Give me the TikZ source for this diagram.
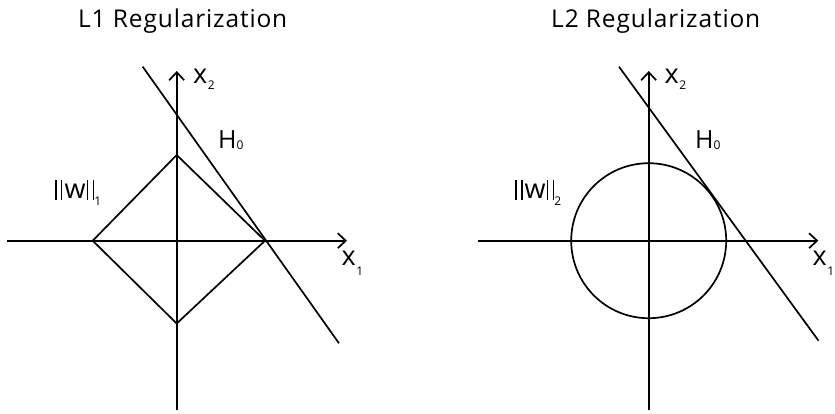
\documentclass[tikz,border=0pt]{standalone}
\usepackage{fontspec}
\setmainfont{Open Sans}
\newfontfamily\titlefont[LetterSpace=3.5]{Open Sans}
\usetikzlibrary{arrows.meta}
\newcommand\dbar{\rule[-2pt]{1.4pt}{20pt}\hspace{4.5pt}\rule[-2pt]{1.4pt}{20pt}}
\newcommand\subtxt[2]{\raisebox{#1}{\fontsize{12}{12}\selectfont #2}}
\newcommand\xlab[3]{{\fontsize{27}{27}\selectfont x}\hspace{0.5pt}\subtxt{#1}{#2}#3}
\newcommand\hlab[1]{{\fontsize{25}{25}\selectfont H}\subtxt{-1pt}{#1}}
\newcommand\wlab[2]{\dbar\hspace{2pt}{\fontsize{27}{27}\selectfont w}\hspace{1.5pt}\dbar\subtxt{#1}{#2}}
\tikzset{
  line/.style={line width=1.7pt, black},
  axis/.style={line width=1.7pt, -{Straight Barb[length=8pt,width=15pt,line width=1.7pt]}},
  title/.style={font=\titlefont\fontsize{24.5}{24.5}\selectfont, inner sep=0pt, anchor=base west},
  lab/.style={inner sep=0pt, anchor=base west},
}
\begin{document}
\begin{tikzpicture}[x=1pt,y=-1pt]
\useasboundingbox (0,0) rectangle (835,413);
% ---------- L1 panel ----------
\node[title] (t1) at (78,27.8) {L1 Regularization};
\coordinate (o1) at (176.7,240.7);
\coordinate (x1s) at (7,240.7);
\coordinate (x1e) at (347,240.7);
\coordinate (y1s) at (176.7,410);
\coordinate (y1e) at (176.7,71);
\draw[axis] (x1s) -- (x1e);
\draw[axis] (y1s) -- (y1e);
\coordinate (dl) at (92.7,240.7);
\coordinate (dt) at (176.7,155);
\coordinate (dr) at (265,240.7);
\coordinate (db) at (176.7,323.5);
\draw[line, line join=miter] (dl) -- (dt) -- (dr) -- (db) -- cycle;
\coordinate (h1a) at (142.7,66.7);
\coordinate (h1b) at (339,343.3);
\draw[line] (h1a) -- (h1b);
\node[lab] (lx2a) at (193,83) {\xlab{-6pt}{2}{}};
\node[lab] (lx1a) at (341.5,265) {\xlab{-10pt}{1}{}};
\node[lab] (lh0a) at (218,148) {\hlab{0}};
\node[lab] (lwa) at (55,198) {\wlab{-7pt}{1}};
% ---------- L2 panel ----------
\node[title] (t2) at (551,27.8) {L2 Regularization};
\coordinate (o2) at (648.7,240.7);
\coordinate (x2s) at (478.3,240.7);
\coordinate (x2e) at (818.3,240.7);
\coordinate (y2s) at (648.7,410);
\coordinate (y2e) at (648.7,71);
\draw[axis] (x2s) -- (x2e);
\draw[axis] (y2s) -- (y2e);
\draw[line] (o2) circle[radius=77.5];
\coordinate (h2a) at (619,66.7);
\coordinate (h2b) at (818.5,340.7);
\draw[line] (h2a) -- (h2b);
\node[lab] (lx2b) at (664.5,83) {\xlab{-6pt}{2}{}};
\node[lab] (lx1b) at (812.5,265) {\xlab{-10pt}{1}{}};
\node[lab] (lh0b) at (695,148) {\hlab{0}};
\node[lab] (lwb) at (515,198) {\wlab{-7pt}{2}};
\end{tikzpicture}
\end{document}
